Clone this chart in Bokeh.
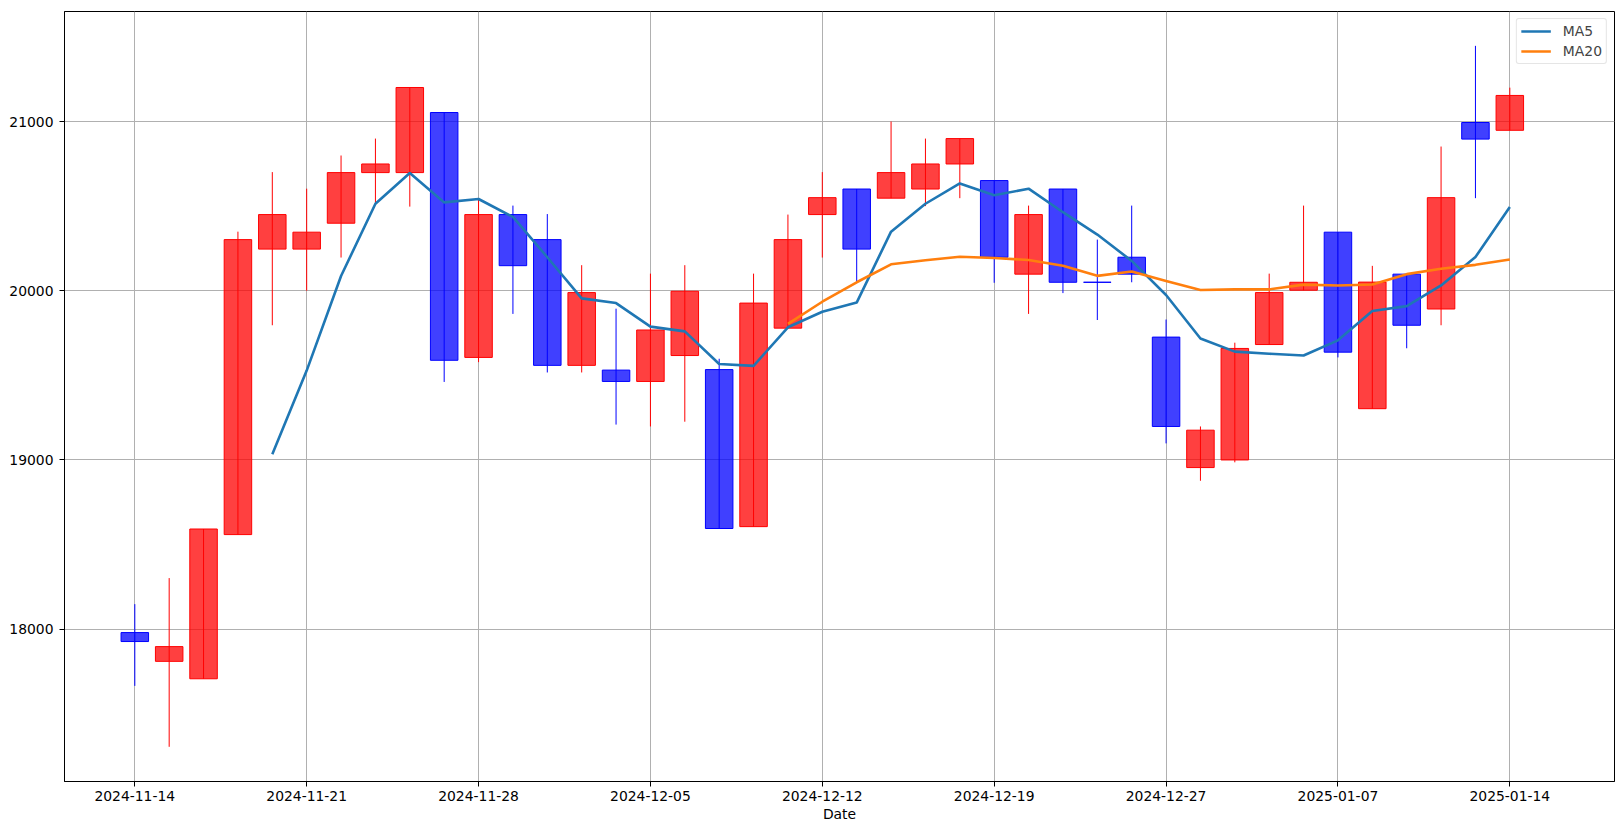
from bokeh.plotting import figure
from bokeh.models import ColumnDataSource, FixedTicker, Range1d
from bokeh.embed import file_html
from bokeh.resources import INLINE

# ---- data ----
dates = ["2024-11-14", "2024-11-15", "2024-11-18", "2024-11-19", "2024-11-20",
         "2024-11-21", "2024-11-22", "2024-11-25", "2024-11-26", "2024-11-27",
         "2024-11-28", "2024-11-29", "2024-12-02", "2024-12-03", "2024-12-04",
         "2024-12-05", "2024-12-06", "2024-12-09", "2024-12-10", "2024-12-11",
         "2024-12-12", "2024-12-13", "2024-12-16", "2024-12-17", "2024-12-18",
         "2024-12-19", "2024-12-20", "2024-12-23", "2024-12-24", "2024-12-26",
         "2024-12-27", "2024-12-30", "2025-01-02", "2025-01-03", "2025-01-06",
         "2025-01-07", "2025-01-08", "2025-01-09", "2025-01-10", "2025-01-13",
         "2025-01-14"]

open_ = [17980, 17810, 17707, 18559, 20246, 20246, 20399, 20698, 20698, 21053,
         19606, 20450, 20302, 19559, 19531, 19464, 19617, 19534, 18606, 19779,
         20450, 20601, 20547, 20601, 20749, 20651, 20098, 20601, 20050, 20198,
         19726, 18955, 19000, 19682, 20003, 20346, 19303, 20098, 19892, 20994,
         20948]
high = [18148, 18302, 18592, 20349, 20701, 20603, 20799, 20899, 21201, 21053,
        20547, 20503, 20453, 20151, 19894, 20101, 20151, 19598, 20101, 20450,
        20701, 20601, 21000, 20899, 20899, 20651, 20503, 20601, 20302, 20503,
        19830, 19198, 19693, 20101, 20503, 20346, 20147, 20098, 20852, 21447,
        21200]
low = [17665, 17305, 17707, 18559, 19796, 20000, 20196, 20514, 20497, 19461,
       19578, 19863, 19517, 19517, 19209, 19198, 19226, 18595, 18606, 19779,
       20196, 20047, 20547, 20500, 20547, 20047, 19863, 19986, 19827, 20050,
       19098, 18877, 18986, 19682, 20003, 19606, 19303, 19660, 19796, 20547,
       20948]
close = [17927, 17897, 18592, 20302, 20450, 20346, 20698, 20749, 21201, 19589,
         20450, 20148, 19559, 19989, 19464, 19768, 19997, 18595, 19927, 20302,
         20550, 20246, 20698, 20749, 20899, 20198, 20450, 20050, 20050, 20098,
         19198, 19176, 19659, 19989, 20050, 19637, 20051, 19796, 20550, 20896,
         21154]

ma5_start = 4
ma5 = [19034, 19528, 20087, 20514, 20696, 20522, 20542, 20436, 20198, 19955,
       19927, 19788, 19760, 19567, 19556, 19784, 19876, 19930, 20349, 20514,
       20634, 20564, 20603, 20464, 20332, 20176, 19975, 19718, 19640, 19628,
       19617, 19707, 19880, 19909, 20031, 20199, 20495]
ma20_start = 19
ma20 = [19804, 19935, 20050, 20156, 20180, 20201, 20193, 20182, 20148, 20088,
        20114, 20057, 20004, 20008, 20008, 20036, 20031, 20037, 20098, 20130,
        20153, 20185]

tick_step = 5

# ---- build sources ----
n = len(dates)
xs = list(range(n))
up = [c > o for o, c in zip(open_, close)]
colors = ["#ff0000" if u else "#0000ff" for u in up]
src = ColumnDataSource(dict(
    x=xs,
    top=[max(o, c) for o, c in zip(open_, close)],
    bottom=[min(o, c) for o, c in zip(open_, close)],
    high=high, low=low, color=colors,
))
ma5_src = ColumnDataSource(dict(x=list(range(ma5_start, ma5_start + len(ma5))), y=ma5))
ma20_src = ColumnDataSource(dict(x=list(range(ma20_start, ma20_start + len(ma20))), y=ma20))

FONT = "DejaVu Sans"
FS = "13.9px"

p = figure(width=1623, height=833, output_backend="svg", toolbar_location=None,
           x_range=Range1d(-2.045, 43.045), y_range=Range1d(17100, 21650),
           min_border_left=64, min_border_right=9, min_border_top=11, min_border_bottom=52)
p.background_fill_color = "white"
p.border_fill_color = "white"
p.outline_line_color = "black"
p.outline_line_width = 1

p.segment(x0="x", y0="low", x1="x", y1="high", source=src, line_color="color", line_width=1)
p.vbar(x="x", width=0.8, top="top", bottom="bottom", source=src,
       fill_color="color", fill_alpha=0.75, line_color="color", line_width=1)

p.line("x", "y", source=ma5_src, line_color="#1f77b4", line_width=2.6, legend_label="MA5")
p.line("x", "y", source=ma20_src, line_color="#ff7f0e", line_width=2.6, legend_label="MA20")

tick_idx = list(range(0, n, tick_step))
p.xaxis.ticker = FixedTicker(ticks=tick_idx)
p.xaxis.major_label_overrides = {i: dates[i] for i in tick_idx}
p.yaxis.ticker = FixedTicker(ticks=[18000, 19000, 20000, 21000])
p.yaxis.formatter.use_scientific = False

for ax in (p.xaxis[0], p.yaxis[0]):
    ax.axis_line_color = "black"
    ax.axis_line_width = 1
    ax.major_tick_line_color = "black"
    ax.major_tick_out = 5
    ax.major_tick_in = 0
    ax.minor_tick_line_color = None
    ax.major_label_text_font = FONT
    ax.major_label_text_font_size = FS
    ax.major_label_text_color = "black"
    ax.axis_label_text_font = FONT
    ax.axis_label_text_font_size = FS
    ax.axis_label_text_font_style = "normal"
    ax.axis_label_text_color = "black"

p.xaxis.major_label_standoff = 4
p.yaxis.major_label_standoff = 6
p.xaxis.axis_label = "Date"
p.xaxis.axis_label_standoff = 2

p.grid.grid_line_color = "#b0b0b0"
p.grid.grid_line_width = 1

lg = p.legend[0]
lg.location = "top_right"
lg.margin = 7
lg.padding = 4
lg.spacing = 4
lg.glyph_width = 30
lg.glyph_height = 16
lg.label_height = 16
lg.label_standoff = 12
lg.label_text_font = FONT
lg.label_text_font_size = FS
lg.border_line_color = "#cccccc"
lg.border_line_width = 1
lg.background_fill_alpha = 0.8
try:
    lg.border_radius = 3
except Exception:
    pass

open("out.html", "w").write(file_html(p, INLINE))
